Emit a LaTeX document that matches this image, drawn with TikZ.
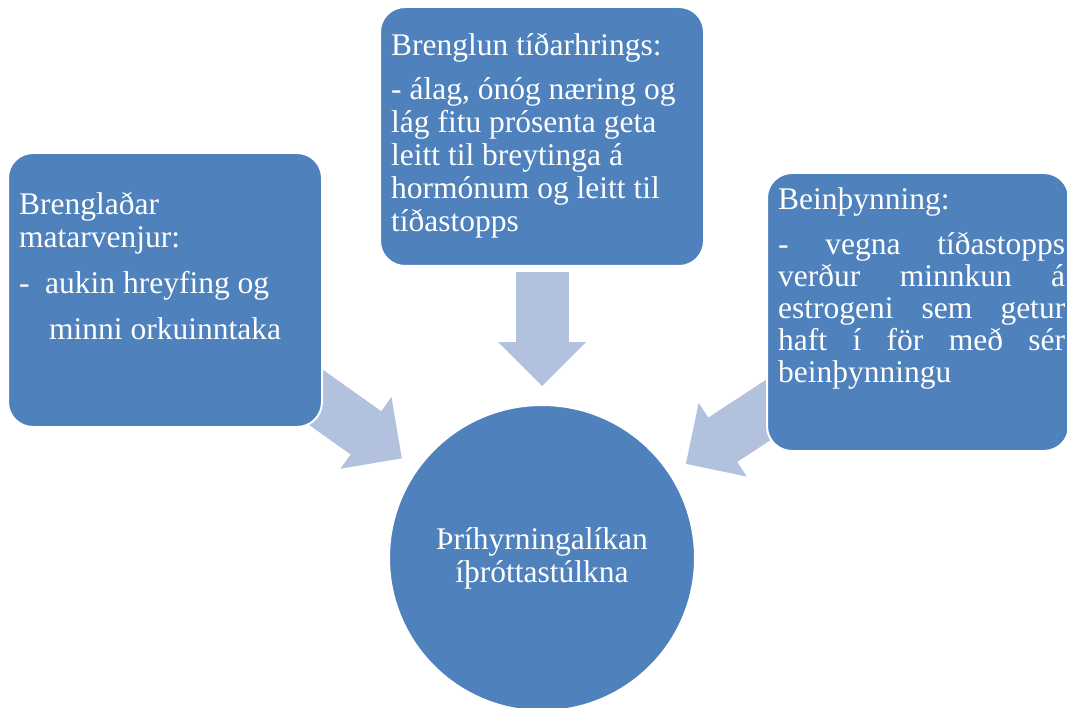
\documentclass[tikz,border=0pt]{standalone}
\usepackage{fontspec}
\setmainfont{Liberation Serif}
\usetikzlibrary{positioning,arrows.meta,backgrounds}
\definecolor{boxblue}{HTML}{4F81BD}
\definecolor{arrowblue}{HTML}{B2C1DD}

\begin{document}
\begin{tikzpicture}[x=1pt, y=-1pt,
  box/.style={rectangle, draw=white, line width=2pt, fill=boxblue, rounded corners=25pt},
  txt/.style={text=white, font=\fontsize{31.5}{33}\selectfont, align=left, inner sep=0pt, anchor=base west},
  bigarrow/.style={draw=arrowblue, line width=53pt, -{Triangle[width=88pt, length=44pt, line width=0pt]}, shorten >=18pt}]

\useasboundingbox (0,0) rectangle (1067,708);

\node[box, minimum width=314pt, minimum height=274pt] (lbox) at (165,290) {};
\node[box, minimum width=324pt, minimum height=259pt] (tbox) at (542,136.5) {};
\node[box, minimum width=302pt, minimum height=278pt] (rbox) at (918,312) {};
\node[circle, draw=white, line width=2pt, fill=boxblue, minimum size=306pt, align=center,
  text=white, font=\fontsize{31.5}{33}\selectfont] (circ) at (542,558) {Þríhyrningalíkan\\íþróttastúlkna};

% base of a multi-line node = last line
\node[txt] (ltext) at (19,339) {Brenglaðar\\matarvenjur:\\[13pt]\makebox[26pt][l]{-}aukin hreyfing og\\[13pt]\hspace*{30pt}minni orkuinntaka};
\node[txt] (ttext) at (391,232) {Brenglun tíðarhrings:\\[11pt]- álag, ónóg næring og\\lág fitu prósenta geta\\leitt til breytinga á\\hormónum og leitt til\\tíðastopps};
\node[txt, font=\fontsize{31.5}{32}\selectfont] (rtext) at (778,382) {Beinþynning:\\[13pt]\makebox[287pt][s]{- vegna tíðastopps}\\\makebox[287pt][s]{verður minnkun á}\\\makebox[287pt][s]{estrogeni sem getur}\\\makebox[287pt][s]{haft í för með sér}\\beinþynningu};

\begin{scope}[on background layer]
\draw[bigarrow] (lbox.center) -- (circ);
\draw[bigarrow, shorten <=5pt] (tbox) -- (circ);
\draw[bigarrow] (rbox.center) -- (circ);
\end{scope}

\end{tikzpicture}
\end{document}
